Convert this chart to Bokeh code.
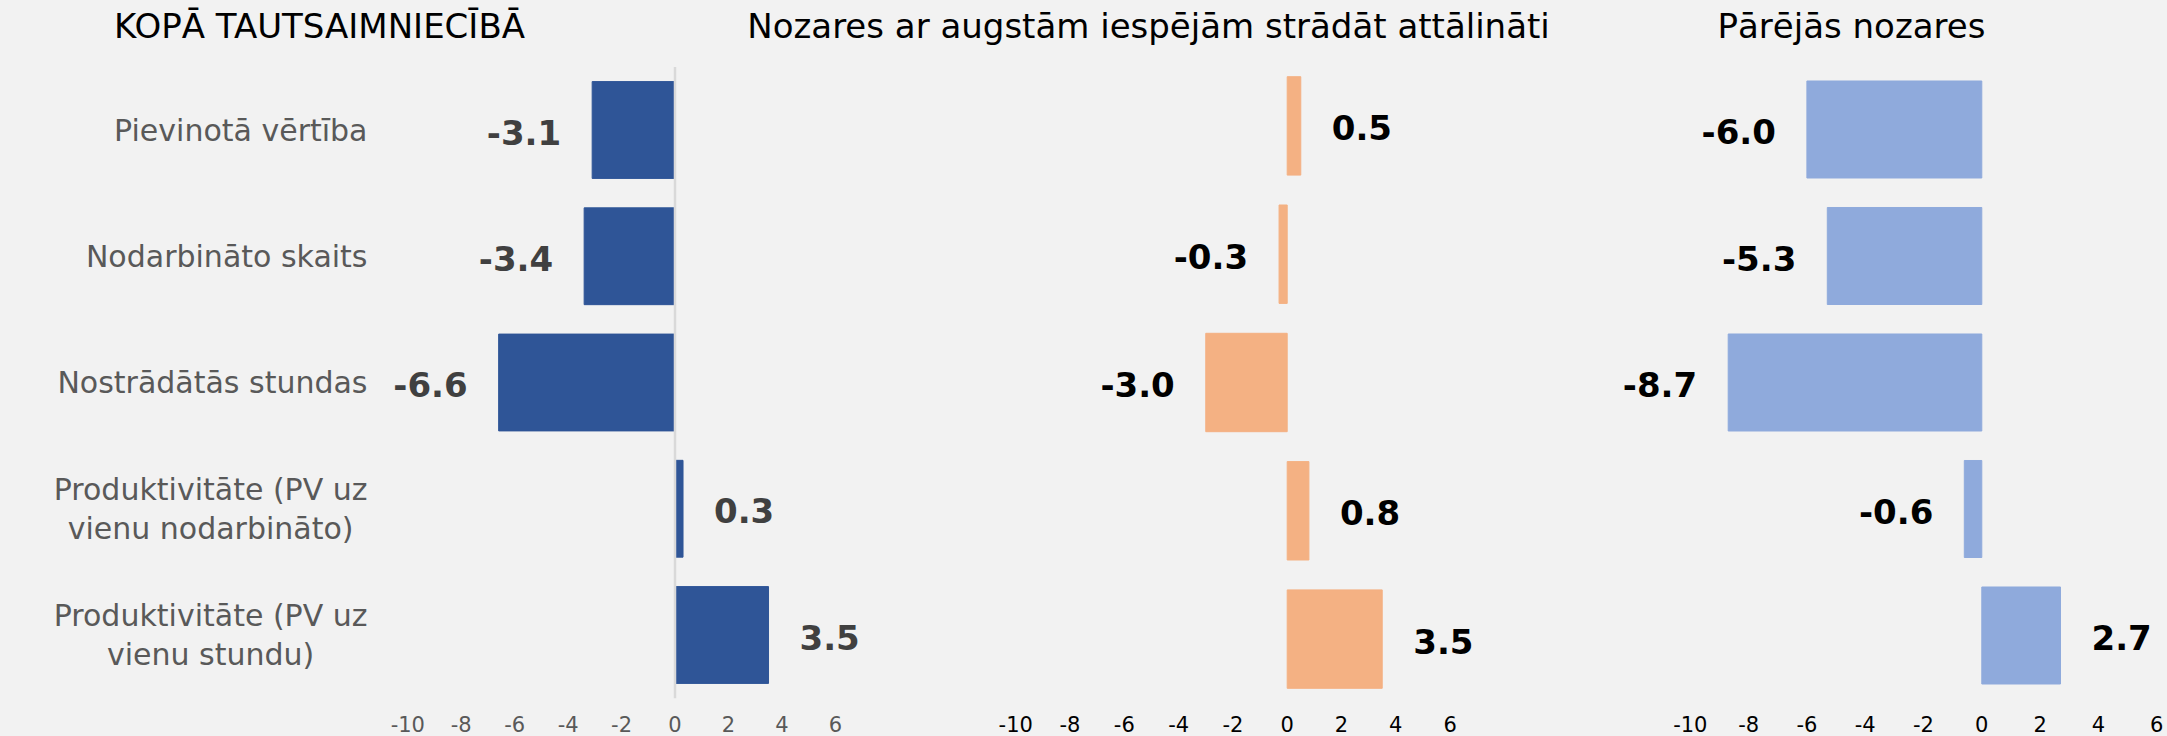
from bokeh.plotting import figure
from bokeh.models import Range1d, FactorRange, ColumnDataSource
from bokeh.layouts import column
from bokeh.core.properties import value
from bokeh.embed import file_html
from bokeh.resources import INLINE

# ---------------- data ----------------
categories = [
    "Pievinotā vērtība",
    "Nodarbināto skaits",
    "Nostrādātās stundas",
    "Produktivitāte (PV uz\nvienu nodarbināto)",
    "Produktivitāte (PV uz\nvienu stundu)",
]
total_economy = [-3.1, -3.4, -6.6, 0.3, 3.5]
remote_sectors = [0.5, -0.3, -3.0, 0.8, 3.5]
other_sectors = [-6.0, -5.3, -8.7, -0.6, 2.7]
panel_titles = [
    "KOPĀ TAUTSAIMNIECĪBĀ",
    "Nozares ar augstām iespējām strādāt attālināti",
    "Pārējās nozares",
]
tick_values = [-10, -8, -6, -4, -2, 0, 2, 4, 6]
tick_labels = [str(t) for t in tick_values]

# ---------------- layout / style ----------------
W = 2167
H_TITLE, H_MAIN, H_TICK = 54, 656, 26
TITLE_CY = 28.5            # title text centre, px above the strip bottom
TICK_CY = 13               # tick label centre, px above the strip bottom
BG = "#F2F2F2"
FONT = "DejaVu Sans"
BAR_H = 0.767
GAP = 31
LABEL_RIGHT = 367          # right edge of the category labels (px)
N = len(categories)

panels = [
    dict(values=total_economy, zero=674.5, unit=26.72, pitch=126.25, color="#2F5597",
         label_color="#404040", tick_color="#595959", title_center=319),
    dict(values=remote_sectors, zero=1286.7, unit=27.15, pitch=128.3, color="#F4B183",
         label_color="#000000", tick_color="#000000", title_center=1148),
    dict(values=other_sectors, zero=1981.3, unit=29.15, pitch=126.5, color="#8FAADC",
         label_color="#000000", tick_color="#000000", title_center=1851),
]

x_ranges, y_ranges = [], []
for pn in panels:
    x_ranges.append(Range1d(-pn["zero"] / pn["unit"], (W - pn["zero"]) / pn["unit"]))
    y_ranges.append(FactorRange(factors=categories[::-1],
                                range_padding=H_MAIN / (N * pn["pitch"]) - 1,
                                range_padding_units="percent"))


def bare(fig):
    fig.background_fill_color = BG
    fig.border_fill_color = BG
    fig.outline_line_color = None
    fig.min_border = 0
    fig.xgrid.visible = False
    fig.ygrid.visible = False
    return fig


# ---------- titles strip ----------
t = bare(figure(width=W, height=H_TITLE, x_range=Range1d(0, W), y_range=Range1d(0, H_TITLE),
                x_axis_location=None, y_axis_location=None,
                toolbar_location=None, output_backend="svg"))
t.text(x=[pn["title_center"] for pn in panels], y=[TITLE_CY] * len(panels), text=panel_titles,
       text_align="center", text_baseline="middle",
       text_font=value(FONT), text_font_size="34px", text_color="#000000")

# ---------- main bars ----------
p = bare(figure(width=W, height=H_MAIN, x_range=x_ranges[0], y_range=y_ranges[0],
                x_axis_location=None, y_axis_location=None,
                toolbar_location=None, output_backend="svg"))
p.extra_x_ranges = {"x1": x_ranges[1], "x2": x_ranges[2]}
p.extra_y_ranges = {"y1": y_ranges[1], "y2": y_ranges[2]}

# category labels (left of first panel)
p.text(x=[(LABEL_RIGHT - panels[0]["zero"]) / panels[0]["unit"]] * N, y=categories,
       text=categories, anchor="center_right", text_align="center",
       text_line_height=1.1, text_font=value(FONT), text_font_size="30px",
       text_color="#595959")

# ---------- tick label strip ----------
b = bare(figure(width=W, height=H_TICK, x_range=x_ranges[0], y_range=Range1d(0, H_TICK),
                x_axis_location=None, y_axis_location=None,
                toolbar_location=None, output_backend="svg"))
b.extra_x_ranges = {"x1": x_ranges[1], "x2": x_ranges[2]}

xnames = ["default", "x1", "x2"]
ynames = ["default", "y1", "y2"]
for i, pn in enumerate(panels):
    vals = pn["values"]
    src = ColumnDataSource(dict(
        cat=categories,
        val=vals,
        label=[f"{v:.1f}" for v in vals],
        align=["left" if v >= 0 else "right" for v in vals],
        off=[GAP if v >= 0 else -GAP for v in vals],
    ))
    p.hbar(y="cat", left=0, right="val", height=BAR_H, source=src,
           fill_color=pn["color"], line_color=pn["color"],
           x_range_name=xnames[i], y_range_name=ynames[i])
    p.text(x="val", y="cat", text="label", x_offset="off", text_align="align",
           text_baseline="middle", y_offset=2, source=src,
           text_font=value(FONT), text_font_style="bold", text_font_size="34px",
           text_color=pn["label_color"],
           x_range_name=xnames[i], y_range_name=ynames[i])
    b.text(x=tick_values, y=[TICK_CY] * len(tick_values), text=tick_labels,
           text_align="center", text_baseline="middle",
           text_font=value(FONT), text_font_size="21px", text_color=pn["tick_color"],
           x_range_name=xnames[i])

# zero axis line of the first panel, spanning all category bands
p.rect(x=[0], y=[categories[N // 2]], width=2.5, height=N, width_units="screen",
       fill_color="#D9D9D9", line_color=None)

layout = column(t, p, b, spacing=0)

html = file_html(layout, INLINE, title="Produktivitāte")
html = html.replace("<head>", "<head><style>html,body{background:#F2F2F2;}</style>", 1)
open("out.html", "w").write(html)
